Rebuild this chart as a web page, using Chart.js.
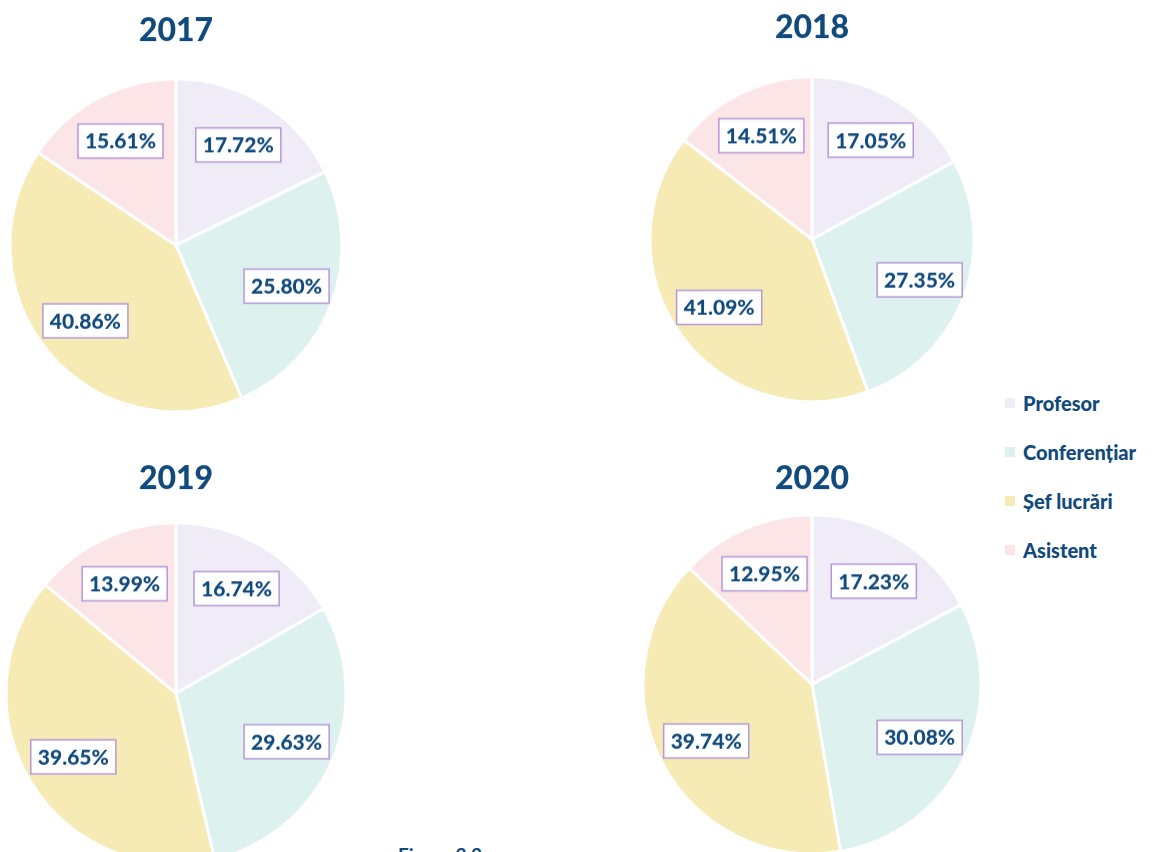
<!DOCTYPE html>
<html>
<head>
<meta charset="utf-8">
<script src="https://cdn.jsdelivr.net/npm/chart.js@4"></script>
<style>
    html, body { margin: 0; padding: 0; background: #fff; }
    body { width: 1153px; height: 852px; overflow: hidden; position: relative; font-family: Lato, "Open Sans", sans-serif; }
    .pie-box { position: absolute; }
    .legend { position: absolute; left: 1005px; top: 389px; }
    .legend-row { display: flex; align-items: center; height: 27px; margin-bottom: 22px; color: #114a7c; font-weight: 900; font-size: 20px; }
    .legend-swatch { width: 10px; height: 10px; margin-right: 8px; }
    .caption { position: absolute; left: 398px; top: 843px; color: #114a7c; font-weight: bold; font-size: 19px; }
</style>
</head>
<body>
<div id="pie2017" class="pie-box"><canvas></canvas></div>
<div id="pie2018" class="pie-box"><canvas></canvas></div>
<div id="pie2019" class="pie-box"><canvas></canvas></div>
<div id="pie2020" class="pie-box"><canvas></canvas></div>
<div class="legend" id="legend"></div>
<div class="caption">Figura 3.3</div>

<script>
// Data
const categories = ['Profesor', 'Conferențiar', 'Șef lucrări', 'Asistent'];
const years = ['2017', '2018', '2019', '2020'];
const values2017 = [17.72, 25.80, 40.86, 15.61];
const values2018 = [17.05, 27.35, 41.09, 14.51];
const values2019 = [16.74, 29.63, 39.65, 13.99];
const values2020 = [17.23, 30.08, 39.74, 12.95];

const sliceColors = ['#efebf7', '#ddf2ef', '#f6eab5', '#fce5e6'];
const textColor = '#114a7c';
const boxBorder = '#b598d8';

Chart.defaults.font.family = 'Lato, "Open Sans", sans-serif';
Chart.defaults.animation = false;

// Where each pie sits on the page (centre, radius, title centre)
const layouts = {
    '2017': { cx: 176, cy: 245, r: 166, titleY: 30 },
    '2018': { cx: 812, cy: 239, r: 162, titleY: 27 },
    '2019': { cx: 176, cy: 693, r: 170, titleY: 478 },
    '2020': { cx: 812, cy: 684, r: 169, titleY: 478 }
};

// Draw the boxed percentage labels on each slice
const boxedLabels = {
    id: 'boxedLabels',
    afterDatasetsDraw(chart) {
        const ctx = chart.ctx;
        const meta = chart.getDatasetMeta(0);
        const data = chart.data.datasets[0].data;
        ctx.save();
        ctx.font = '900 21px Lato, "Open Sans", sans-serif';
        ctx.textAlign = 'center';
        ctx.textBaseline = 'middle';
        meta.data.forEach((arc, i) => {
            const mid = (arc.startAngle + arc.endAngle) / 2;
            const dist = arc.outerRadius * 0.71;
            const x = arc.x + Math.cos(mid) * dist;
            const y = arc.y + Math.sin(mid) * dist;
            const text = data[i].toFixed(2) + '%';
            const w = ctx.measureText(text).width + 14;
            const h = 34;
            ctx.fillStyle = '#ffffff';
            ctx.fillRect(x - w / 2, y - h / 2, w, h);
            ctx.strokeStyle = boxBorder;
            ctx.lineWidth = 1.5;
            ctx.strokeRect(x - w / 2, y - h / 2, w, h);
            ctx.fillStyle = textColor;
            ctx.fillText(text, x, y + 1);
        });
        ctx.restore();
    }
};

function makePie(year, values) {
    const lay = layouts[year];
    const box = document.getElementById('pie' + year);
    const canvas = box.querySelector('canvas');
    const titleSize = 32;
    const padTop = 4;
    const padBottom = 10;
    const titleBlock = padTop + titleSize * 1.2 + padBottom;
    const top = Math.round(lay.titleY - titleSize * 0.6 - padTop);
    const chartTop = top + titleBlock;
    const width = 2 * lay.r + 20;
    const height = titleBlock + 2 * (lay.cy - chartTop);

    box.style.left = (lay.cx - width / 2) + 'px';
    box.style.top = top + 'px';
    canvas.width = width;
    canvas.height = height;
    canvas.style.width = width + 'px';
    canvas.style.height = height + 'px';

    return new Chart(canvas.getContext('2d'), {
        type: 'pie',
        data: {
            labels: categories,
            datasets: [{
                data: values,
                backgroundColor: sliceColors,
                borderColor: '#ffffff',
                borderWidth: 3,
                radius: lay.r
            }]
        },
        options: {
            responsive: false,
            maintainAspectRatio: false,
            layout: { padding: 0 },
            plugins: {
                legend: { display: false },
                tooltip: { enabled: false },
                title: {
                    display: true,
                    text: year,
                    color: textColor,
                    font: { size: titleSize, weight: '900' },
                    padding: { top: padTop, bottom: padBottom }
                }
            }
        },
        plugins: [boxedLabels]
    });
}

makePie('2017', values2017);
makePie('2018', values2018);
makePie('2019', values2019);
makePie('2020', values2020);

// Shared legend on the right
const legend = document.getElementById('legend');
categories.forEach((name, i) => {
    const row = document.createElement('div');
    row.className = 'legend-row';
    const swatch = document.createElement('span');
    swatch.className = 'legend-swatch';
    swatch.style.background = sliceColors[i];
    const label = document.createElement('span');
    label.textContent = name;
    row.appendChild(swatch);
    row.appendChild(label);
    legend.appendChild(row);
});
</script>
</body>
</html>
